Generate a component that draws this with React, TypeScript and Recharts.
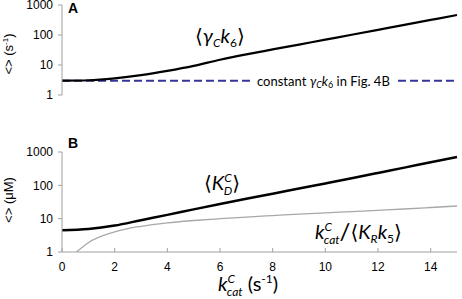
import { Line, LineChart, ReferenceLine, XAxis, YAxis } from "recharts";

// x values (k_cat^C, s^-1)
const kcat = [0, 1, 2, 3, 4, 5, 6, 7, 8, 9, 10, 11, 12, 13, 14, 15];
// panel A: <gamma_C k6> (s^-1)
const gammaK6 = [3.0, 3.1, 3.6, 4.6, 6.4, 9.4, 15.0, 22.6, 33, 48, 70, 102, 149, 218, 318, 463];
const constGammaK6 = 3.0;
// panel B: <K_D^C> (uM)
const kdC = [4.5, 4.9, 6.2, 9.0, 13.0, 19.0, 27.5, 39.5, 56, 80, 114, 163, 235, 340, 490, 710];
// panel B: k_cat^C / <K_R k5> (starts where it crosses 1)
const ratioK = [0.55, 1, 2, 3, 4, 5, 6, 7, 8, 9, 10, 11, 12, 13, 14, 15];
const ratioVals = [1.0, 1.9, 4.0, 5.9, 7.5, 8.8, 10.0, 11.2, 12.4, 13.7, 15.0, 16.3, 17.8, 19.5, 21.6, 24];

const yTicks = [1, 10, 100, 1000];
const xTicks = [0, 2, 4, 6, 8, 10, 12, 14];

const dataA = kcat.map((k, i) => ({ k, v: gammaK6[i] }));
const dataKd = kcat.map((k, i) => ({ k, v: kdC[i] }));
const dataRatio = ratioK.map((k, i) => ({ k, v: ratioVals[i] }));

const axisColor = "#a0a0a0";
const tickFont = { fontSize: 12, fontFamily: "'Liberation Sans', Arial, sans-serif", fill: "#000" };
const mathFont = "Lato, 'DejaVu Sans', sans-serif";

export default function App() {
  return (
    <div style={{ position: "absolute", left: 0, top: 0, width: 462, height: 299, background: "#fff" }}>
      <div style={{ position: "absolute", left: 0, top: 0 }}>
        <LineChart width={462} height={102} margin={{ top: 5, right: 5, bottom: 7, left: 12 }}>
          <XAxis type="number" dataKey="k" domain={[0, 15]} hide allowDuplicatedCategory={false} />
          <YAxis
            scale="log"
            domain={[1, 1000]}
            ticks={yTicks}
            interval={0}
            allowDataOverflow
            width={50}
            stroke={axisColor}
            tick={tickFont}
            tickSize={4}
            tickMargin={5}
          />
          <ReferenceLine y={constGammaK6} stroke="#35359a" strokeWidth={2} strokeDasharray="8 4" />
          <Line
            data={dataA}
            dataKey="v"
            type="monotone"
            stroke="#000"
            strokeWidth={2.2}
            dot={false}
            isAnimationActive={false}
          />
        </LineChart>
      </div>
      <div style={{ position: "absolute", left: 0, top: 130 }}>
        <LineChart width={462} height={169} margin={{ top: 22, right: 5, bottom: 17, left: 12 }}>
          <XAxis
            type="number"
            dataKey="k"
            domain={[0, 15]}
            ticks={xTicks}
            interval={0}
            height={30}
            stroke={axisColor}
            tick={tickFont}
            tickSize={-4}
            tickMargin={14}
            allowDuplicatedCategory={false}
          />
          <YAxis
            scale="log"
            domain={[1, 1000]}
            ticks={yTicks}
            interval={0}
            allowDataOverflow
            width={50}
            stroke={axisColor}
            tick={tickFont}
            tickSize={4}
            tickMargin={5}
          />
          <Line
            data={dataRatio}
            dataKey="v"
            type="monotone"
            stroke="#a8a8a8"
            strokeWidth={1.3}
            dot={false}
            isAnimationActive={false}
          />
          <Line
            data={dataKd}
            dataKey="v"
            type="monotone"
            stroke="#000"
            strokeWidth={2.5}
            dot={false}
            isAnimationActive={false}
          />
        </LineChart>
      </div>
      <svg
        width={462}
        height={299}
        style={{ position: "absolute", left: 0, top: 0, pointerEvents: "none" }}
      >
        {/* panel letters */}
        <text x={68} y={13} fontFamily="'Liberation Sans', Arial, sans-serif" fontWeight="bold" fontSize={14}>A</text>
        <text x={68} y={148} fontFamily="'Liberation Sans', Arial, sans-serif" fontWeight="bold" fontSize={14}>B</text>

        {/* y-axis titles */}
        <text
          transform="translate(13,54) rotate(-90)"
          textAnchor="middle"
          fontFamily="'Liberation Sans', Arial, sans-serif"
          fontSize={13}
        >
          {"<> (s"}
          <tspan fontSize={8} dy={-5}>-1</tspan>
          <tspan dy={5}>)</tspan>
        </text>
        <text
          transform="translate(13,200) rotate(-90)"
          textAnchor="middle"
          fontFamily="'Liberation Sans', Arial, sans-serif"
          fontSize={13}
        >
          {"<> (μM)"}
        </text>

        {/* constant line label */}
        <rect x={251} y={74} width={143} height={14} fill="#fff" />
        <text x={257} y={86} fontFamily={mathFont} fontSize={13}>
          {"constant "}
          <tspan fontStyle="italic">γ</tspan>
          <tspan fontStyle="italic" fontSize={9} dy={2}>C</tspan>
          <tspan fontStyle="italic" dy={-2}>k</tspan>
          <tspan fontSize={9} dy={2}>6</tspan>
          <tspan dy={-2}>{" in Fig. 4B"}</tspan>
        </text>

        {/* <gamma_C k6> */}
        <text x={195} y={43} fontFamily={mathFont} fontSize={20}>
          <tspan>⟨</tspan>
          <tspan fontStyle="italic">γ</tspan>
          <tspan fontStyle="italic" fontSize={12} dy={4}>C</tspan>
          <tspan fontStyle="italic" dy={-4}>k</tspan>
          <tspan fontSize={12} dy={4}>6</tspan>
          <tspan dy={-4}>⟩</tspan>
        </text>

        {/* <K_D^C> */}
        <text x={204} y={190} fontFamily={mathFont} fontSize={20}>
          <tspan>⟨</tspan>
          <tspan fontStyle="italic">K</tspan>
          <tspan fontStyle="italic" fontSize={12} dy={-8}>C</tspan>
          <tspan fontStyle="italic" fontSize={12} dx={-8} dy={13}>D</tspan>
          <tspan dy={-5}>⟩</tspan>
        </text>

        {/* k_cat^C / <K_R k5> */}
        <text x={315} y={239} fontFamily={mathFont} fontSize={20}>
          <tspan fontStyle="italic">k</tspan>
          <tspan fontStyle="italic" fontSize={12} dy={-8}>C</tspan>
          <tspan fontStyle="italic" fontSize={12} dx={-8} dy={13}>cat</tspan>
          <tspan fontSize={24} dy={-4}>/</tspan>
          <tspan dy={-1}>⟨</tspan>
          <tspan fontStyle="italic">K</tspan>
          <tspan fontStyle="italic" fontSize={12} dy={4}>R</tspan>
          <tspan fontStyle="italic" dy={-4}>k</tspan>
          <tspan fontSize={12} dy={4}>5</tspan>
          <tspan dy={-4}>⟩</tspan>
        </text>

        {/* x-axis title */}
        <text x={218} y={291} fontFamily={mathFont} fontSize={20}>
          <tspan fontStyle="italic">k</tspan>
          <tspan fontStyle="italic" fontSize={12} dy={-8}>C</tspan>
          <tspan fontStyle="italic" fontSize={12} dx={-8} dy={13}>cat</tspan>
          <tspan dy={-5}>{" (s"}</tspan>
          <tspan fontSize={12} dy={-8}>-1</tspan>
          <tspan dy={8}>)</tspan>
        </text>
      </svg>
    </div>
  );
}
